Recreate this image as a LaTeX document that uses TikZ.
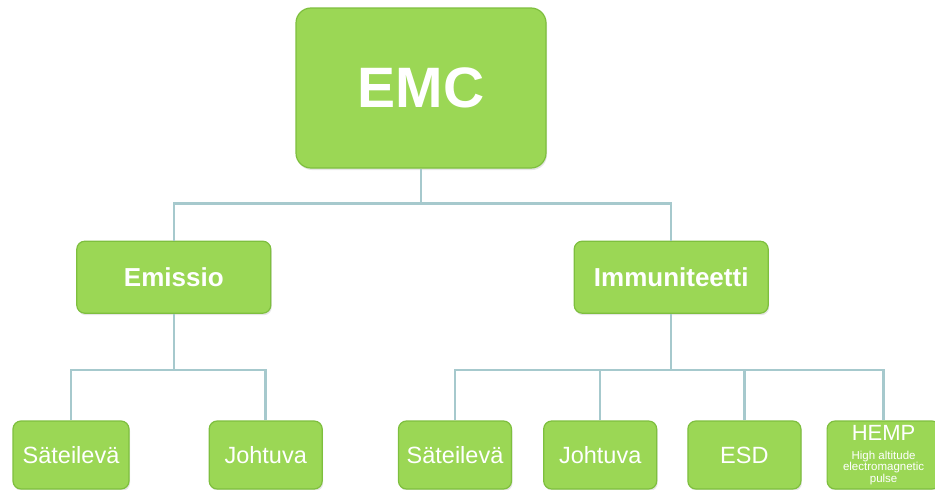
\documentclass[tikz,border=0pt]{standalone}
\usepackage{fontspec}
\setmainfont{Liberation Sans}
\usepackage{tikz}
\usetikzlibrary{positioning,shadows}

\definecolor{boxgreen}{HTML}{9BD755}
\definecolor{boxedge}{HTML}{7EBF3E}
\definecolor{linkblue}{HTML}{A6C9CD}

\begin{document}
\begin{tikzpicture}[
    x=1pt, y=-1pt,
    node distance=30pt,
    greenbox/.style={rectangle, rounded corners=8pt, fill=boxgreen, draw=boxedge,
        line width=1.2pt, text=white, inner sep=2pt,
        drop shadow={opacity=0.2, shadow xshift=1pt, shadow yshift=-2pt}},
    topbox/.style={greenbox, rounded corners=15pt, minimum width=250pt,
        minimum height=160pt, font=\bfseries\fontsize{57}{60}\selectfont},
    midbox/.style={greenbox, minimum width=194pt, minimum height=72pt,
        font=\bfseries\fontsize{26}{28}\selectfont},
    lowbox/.style={greenbox, minimum width=113pt, minimum height=68pt,
        font=\fontsize{23.5}{25}\selectfont},
    link/.style={draw=linkblue, line width=2.5pt}
]
\useasboundingbox (0,0) rectangle (935,490);

\node[topbox] (EMC) at (421,88) {EMC};
\node[midbox] (Emi) [below left=72pt and 24pt of EMC.south west] {Emissio};
\node[midbox] (Imm) [below right=72pt and 27pt of EMC.south east] {Immuniteetti};

% emission branch
\node[lowbox, minimum width=116pt] (S1) at (71,455) {Säteilevä};
\node[lowbox] (J1) [right=79pt of S1] {Johtuva};

% immunity branch
\node[lowbox] (S2) at (455,455) {Säteilevä};
\node[lowbox] (J2) [right=31pt of S2] {Johtuva};
\node[lowbox] (ESD) [right=of J2] {ESD};
\node[lowbox, align=center, font=\fontsize{11.5}{11.5}\selectfont] (HEMP) [right=25pt of ESD]
    {{\fontsize{22}{22}\selectfont HEMP}\\[7pt]High altitude\\electromagnetic\\pulse};

% connectors
\draw[link] (EMC.south) -- ++(0,35) coordinate (j0);
\draw[link] (j0) -| (Emi.north);
\draw[link] (j0) -| (Imm.north);
\draw[link] (Emi.south) -- ++(0,56) coordinate (j1);
\foreach \n in {S1,J1}
    \draw[link] (j1) -| (\n.north);
\draw[link] (Imm.south) -- ++(0,56) coordinate (j2);
\foreach \n in {S2,J2,ESD,HEMP}
    \draw[link] (j2) -| (\n.north);
\end{tikzpicture}
\end{document}
